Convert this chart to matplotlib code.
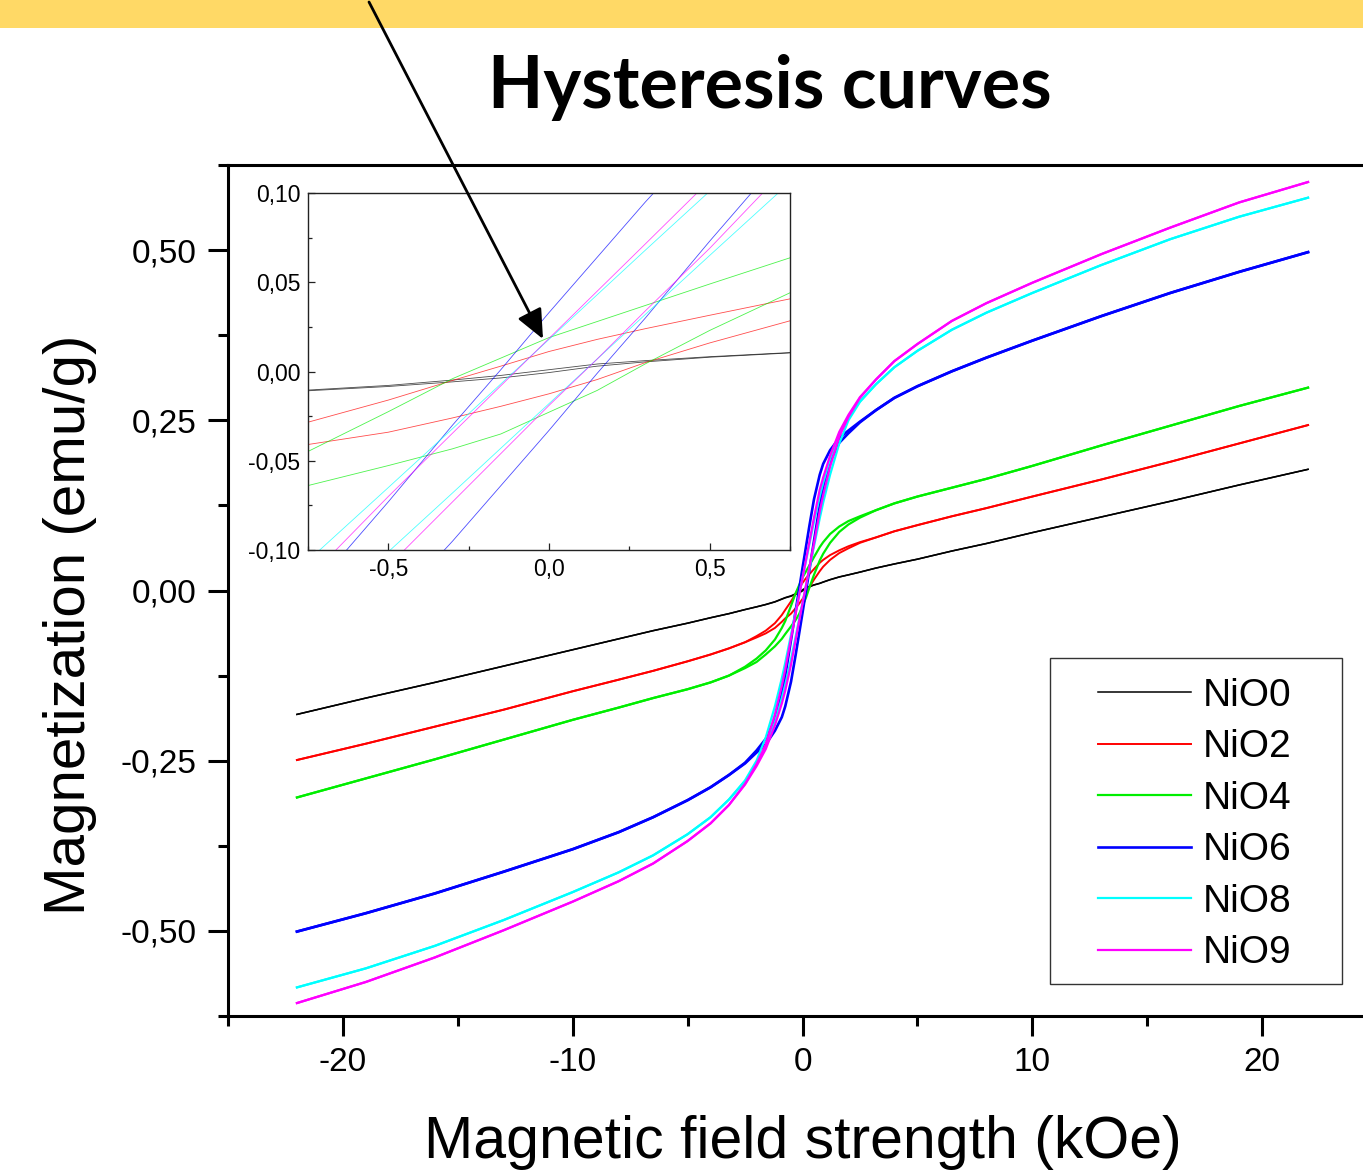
import matplotlib
matplotlib.use('Agg')
import matplotlib.pyplot as plt
from matplotlib.ticker import MultipleLocator, FuncFormatter
from matplotlib.patches import Rectangle, FancyArrowPatch

# ---------------- data ----------------
field_kOe = [-22, -19, -16, -13, -10, -8, -6.5, -5, -4, -3.2, -2.5, -2, -1.6, -1.2, -0.9,
             -0.75, -0.5, -0.3, -0.15, 0, 0.15, 0.3, 0.5, 0.75, 0.9, 1.2, 1.6, 2, 2.5,
             3.2, 4, 5, 6.5, 8, 10, 13, 16, 19, 22]

samples = ['NiO0', 'NiO2', 'NiO4', 'NiO6', 'NiO8', 'NiO9']

# descending-field branch (upper) and ascending-field branch (lower), emu/g
nio0_upper = [-0.182, -0.158, -0.135, -0.111, -0.087, -0.071, -0.059, -0.048, -0.040, -0.034,
              -0.028, -0.024, -0.0205, -0.0165, -0.0124, -0.0104, -0.0078, -0.0048, -0.0022,
              0.0010, 0.0042, 0.0061, 0.0083, 0.0106, 0.0125, 0.0160, 0.0200, 0.023, 0.027,
              0.033, 0.039, 0.046, 0.058, 0.069, 0.085, 0.108, 0.131, 0.155, 0.178]
nio0_lower = [-0.182, -0.158, -0.135, -0.111, -0.087, -0.071, -0.059, -0.048, -0.040, -0.034,
              -0.028, -0.024, -0.0207, -0.0168, -0.0128, -0.0108, -0.0084, -0.0058, -0.0036,
              -0.0006, 0.0030, 0.0054, 0.0080, 0.0104, 0.0123, 0.0158, 0.0198, 0.023, 0.027,
              0.033, 0.039, 0.046, 0.058, 0.069, 0.085, 0.108, 0.131, 0.155, 0.178]

nio2_upper = [-0.249, -0.225, -0.200, -0.175, -0.148, -0.131, -0.118, -0.104, -0.094, -0.085,
              -0.076, -0.067, -0.059, -0.048, -0.036, -0.0284, -0.0160, -0.0050, 0.0030,
              0.0112, 0.0180, 0.0240, 0.0315, 0.0407, 0.045, 0.052, 0.059, 0.065, 0.071,
              0.078, 0.087, 0.096, 0.109, 0.121, 0.138, 0.163, 0.189, 0.216, 0.243]
nio2_lower = [-0.249, -0.225, -0.200, -0.175, -0.148, -0.131, -0.118, -0.104, -0.094, -0.085,
              -0.076, -0.069, -0.063, -0.055, -0.046, -0.0409, -0.0340, -0.0260, -0.0195,
              -0.0125, -0.0045, 0.0050, 0.0160, 0.0284, 0.035, 0.045, 0.055, 0.062, 0.070,
              0.078, 0.087, 0.096, 0.109, 0.121, 0.138, 0.163, 0.189, 0.216, 0.243]

nio4_upper = [-0.304, -0.276, -0.248, -0.219, -0.190, -0.172, -0.158, -0.145, -0.135, -0.125,
              -0.112, -0.100, -0.088, -0.072, -0.055, -0.0448, -0.0225, -0.0040, 0.0075,
              0.0190, 0.0280, 0.0370, 0.0490, 0.0637, 0.071, 0.083, 0.094, 0.102, 0.109,
              0.118, 0.128, 0.138, 0.151, 0.164, 0.183, 0.213, 0.242, 0.271, 0.298]
nio4_lower = [-0.304, -0.276, -0.248, -0.219, -0.190, -0.172, -0.158, -0.145, -0.135, -0.125,
              -0.114, -0.105, -0.094, -0.082, -0.071, -0.0639, -0.0527, -0.0433, -0.0350,
              -0.0228, -0.0106, 0.0043, 0.0230, 0.0441, 0.054, 0.070, 0.086, 0.097, 0.107,
              0.118, 0.128, 0.138, 0.151, 0.164, 0.183, 0.213, 0.242, 0.271, 0.298]

nio6_upper = [-0.501, -0.474, -0.445, -0.413, -0.380, -0.355, -0.333, -0.308, -0.289, -0.271,
              -0.253, -0.235, -0.218, -0.190, -0.152, -0.125, -0.073, -0.030, 0.001,
              0.033, 0.064, 0.095, 0.134, 0.170, 0.186, 0.206, 0.224, 0.235, 0.248,
              0.265, 0.283, 0.300, 0.322, 0.342, 0.367, 0.403, 0.437, 0.468, 0.497]
nio6_lower = [-0.501, -0.474, -0.445, -0.413, -0.380, -0.355, -0.333, -0.308, -0.289, -0.271,
              -0.254, -0.238, -0.226, -0.206, -0.186, -0.170, -0.134, -0.095, -0.064,
              -0.033, -0.001, 0.030, 0.073, 0.125, 0.152, 0.190, 0.217, 0.231, 0.247,
              0.265, 0.283, 0.300, 0.322, 0.342, 0.367, 0.403, 0.437, 0.468, 0.497]

nio8_upper = [-0.583, -0.555, -0.522, -0.484, -0.443, -0.414, -0.389, -0.358, -0.333, -0.307,
              -0.279, -0.250, -0.216, -0.170, -0.129, -0.106, -0.065, -0.032, -0.007,
              0.018, 0.043, 0.068, 0.101, 0.138, 0.158, 0.193, 0.229, 0.254, 0.278,
              0.303, 0.328, 0.352, 0.383, 0.408, 0.437, 0.478, 0.516, 0.549, 0.577]
nio8_lower = [-0.583, -0.555, -0.522, -0.484, -0.443, -0.414, -0.389, -0.358, -0.333, -0.307,
              -0.280, -0.254, -0.229, -0.193, -0.158, -0.138, -0.101, -0.068, -0.043,
              -0.018, 0.007, 0.032, 0.065, 0.106, 0.129, 0.170, 0.216, 0.250, 0.277,
              0.303, 0.328, 0.352, 0.383, 0.408, 0.437, 0.478, 0.516, 0.549, 0.577]

nio9_upper = [-0.606, -0.575, -0.539, -0.499, -0.457, -0.427, -0.401, -0.368, -0.342, -0.315,
              -0.284, -0.255, -0.226, -0.182, -0.140, -0.116, -0.070, -0.0345, -0.008,
              0.0185, 0.045, 0.0715, 0.107, 0.148, 0.166, 0.198, 0.233, 0.258, 0.284,
              0.310, 0.337, 0.362, 0.396, 0.422, 0.452, 0.494, 0.533, 0.570, 0.600]
nio9_lower = [-0.606, -0.575, -0.539, -0.499, -0.457, -0.427, -0.401, -0.368, -0.342, -0.315,
              -0.285, -0.258, -0.233, -0.198, -0.166, -0.147, -0.109, -0.073, -0.046,
              -0.019, 0.007, 0.034, 0.069, 0.116, 0.140, 0.182, 0.226, 0.255, 0.283,
              0.310, 0.337, 0.362, 0.396, 0.422, 0.452, 0.494, 0.533, 0.570, 0.600]

upper = [nio0_upper, nio2_upper, nio4_upper, nio6_upper, nio8_upper, nio9_upper]
lower = [nio0_lower, nio2_lower, nio4_lower, nio6_lower, nio8_lower, nio9_lower]
colors = ['#000000', '#FF0000', '#00EE00', '#0000FF', '#00FFFF', '#FF00FF']
main_lw = [1.1, 1.4, 1.6, 1.9, 1.6, 1.6]

title = 'Hysteresis curves'
xlabel = 'Magnetic field strength (kOe)'
ylabel = 'Magnetization (emu/g)'

# ---------------- figure ----------------
W, H = 1363, 1170
plt.rcParams['font.family'] = ['Liberation Sans', 'DejaVu Sans']
fig = plt.figure(figsize=(W / 100, H / 100), dpi=100)
fig.patch.set_facecolor('white')


def fx(px):
    return px / W


def fy(py):
    return 1 - py / H


# yellow band at top
fig.patches.append(Rectangle((0, fy(28)), 1, 28 / H, transform=fig.transFigure,
                             facecolor='#FFD966', edgecolor='none', zorder=0))


def comma_fmt(fmt):
    def f(v, pos):
        if abs(v) < 1e-9:
            v = 0.0
        return (fmt % v).replace('.', ',')
    return FuncFormatter(f)


# main axes (right edge lies beyond the figure, like the reference crop)
ax = fig.add_axes([fx(228), fy(1016), (1377 - 228) / W, (1016 - 165) / H])
ax.set_xlim(-25, 25)
ax.set_ylim(-0.625, 0.625)
handles = []
for i, name in enumerate(samples):
    l, = ax.plot(field_kOe, upper[i], color=colors[i], lw=main_lw[i], label=name,
                 solid_joinstyle='round')
    ax.plot(field_kOe, lower[i], color=colors[i], lw=main_lw[i], solid_joinstyle='round')
    handles.append(l)

ax.xaxis.set_major_locator(MultipleLocator(10))
ax.xaxis.set_minor_locator(MultipleLocator(5))
ax.yaxis.set_major_locator(MultipleLocator(0.25))
ax.yaxis.set_minor_locator(MultipleLocator(0.125))
ax.xaxis.set_major_formatter(FuncFormatter(lambda v, p: '%d' % round(v)))
ax.yaxis.set_major_formatter(comma_fmt('%.2f'))
for s in ['left', 'bottom', 'top', 'right']:
    ax.spines[s].set_linewidth(2.2)
ax.tick_params(which='both', direction='out', width=2.2, labelsize=24,
               top=False, right=False, colors='black')
ax.tick_params(which='major', length=14.5)
ax.tick_params(which='minor', length=7.2)
ax.tick_params(axis='x', pad=7.5)
ax.tick_params(axis='y', pad=8)

# inset
axin = fig.add_axes([fx(308), fy(550), (790 - 308) / W, (550 - 193) / H])
axin.set_facecolor('white')
axin.set_xlim(-0.75, 0.75)
axin.set_ylim(-0.1, 0.1)
for i, name in enumerate(samples):
    axin.plot(field_kOe, upper[i], color=colors[i], lw=0.6, alpha=0.7)
    axin.plot(field_kOe, lower[i], color=colors[i], lw=0.6, alpha=0.7)
axin.xaxis.set_major_locator(MultipleLocator(0.5))
axin.xaxis.set_minor_locator(MultipleLocator(0.25))
axin.yaxis.set_major_locator(MultipleLocator(0.05))
axin.yaxis.set_minor_locator(MultipleLocator(0.025))
axin.xaxis.set_major_formatter(comma_fmt('%.1f'))
axin.yaxis.set_major_formatter(comma_fmt('%.2f'))
for s in axin.spines.values():
    s.set_linewidth(1.0)
    s.set_color('#222222')
axin.tick_params(which='both', direction='in', width=0.9, labelsize=16.5,
                 top=False, right=False, pad=5.5, color='#222222')
axin.tick_params(which='major', length=5)
axin.tick_params(which='minor', length=3)

# legend with separate frame
fig.patches.append(Rectangle((fx(1050), fy(984)), (1342 - 1050) / W, (984 - 658) / H,
                             transform=fig.transFigure, facecolor='white',
                             edgecolor='#333333', lw=1.0, zorder=5))
leg = fig.legend(handles, samples, loc='center', bbox_to_anchor=(fx(1195), fy(824.5)),
                 frameon=False, fontsize=28, handlelength=2.4, handletextpad=0.3,
                 labelspacing=0.4, borderpad=0)
leg.set_zorder(6)

# texts
t = fig.text(fx(769.5), fy(108), title, fontfamily=['Lato', 'DejaVu Sans'],
             fontweight='bold', fontsize=50, ha='center', va='baseline')
fig.canvas.draw()
bb = t.get_window_extent(fig.canvas.get_renderer())
t.set_fontsize(50 * 565 / bb.width)

fig.text(fx(803), fy(1158), xlabel, fontsize=42.5, ha='center', va='baseline')
fig.text(fx(70), fy(625), ylabel, fontsize=42, rotation=90, ha='center', va='center')

# arrow pointing into the inset
arrow = FancyArrowPatch((fx(369), fy(2)), (fx(543), fy(339)), transform=fig.transFigure,
                        arrowstyle='-|>,head_length=0.9,head_width=0.4', mutation_scale=20,
                        lw=2, color='black', shrinkA=0, shrinkB=0, zorder=20)
fig.patches.append(arrow)

fig.savefig('out.png', dpi=100)
